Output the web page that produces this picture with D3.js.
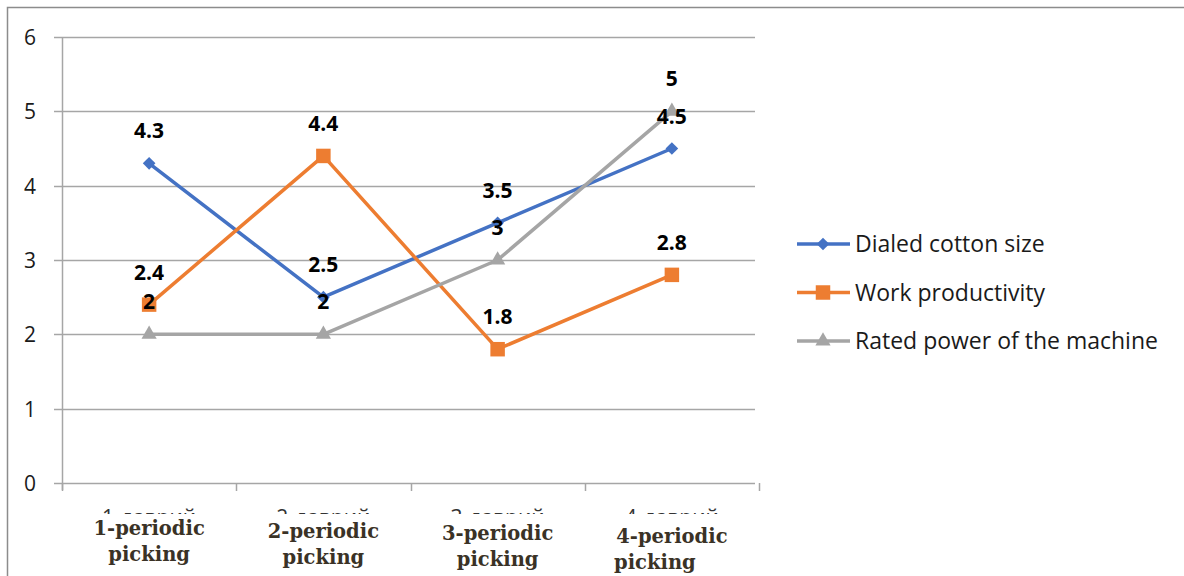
<!DOCTYPE html>
<html>
<head>
<meta charset="utf-8">
<script src="https://cdn.jsdelivr.net/npm/d3@7"></script>
<style>
body { margin: 0; background: #fff; }
svg { display: block; }
</style>
</head>
<body>
<svg id="chart" width="1184" height="576"></svg>
<script>
var categories = ["1", "2", "3", "4"];
var catLabels = [["1-periodic", "picking"], ["2-periodic", "picking"], ["3-periodic", "picking"], ["4-periodic", "picking"]];
var catLabelsUz = ["1-даврий", "2-даврий", "3-даврий", "4-даврий"];
var seriesNames = ["Dialed cotton size", "Work productivity", "Rated power of the machine"];
var cottonSize = [4.3, 2.5, 3.5, 4.5];
var productivity = [2.4, 4.4, 1.8, 2.8];
var ratedPower = [2, 2, 3, 5];
var yTicks = [0, 1, 2, 3, 4, 5, 6];

var colors = ["#4472C4", "#ED7D31", "#A5A5A5"];
var symbols = [d3.symbolSquare, d3.symbolSquare, d3.symbolTriangle];
var symSizes = [80, 210, 100];
var symRotate = [45, 0, 0];

var series = [cottonSize, productivity, ratedPower].map(function (vals, i) {
	return {name: seriesNames[i], values: vals, color: colors[i]};
});

var svg = d3.select("#chart");
var plotLeft = 62, plotRight = 759, plotTop = 37, plotBottom = 483;

var x = d3.scaleBand().domain(categories).range([plotLeft, plotRight]);
var y = d3.scaleLinear().domain([0, 6]).range([plotBottom, plotTop]);

function cx(i) { return x(categories[i]) + x.bandwidth() / 2; }

// chart border (only left and top visible)
svg.append("path")
	.attr("d", "M7.5,576 L7.5,7.5 L1184,7.5")
	.attr("fill", "none")
	.attr("stroke", "#8c8c8c")
	.attr("stroke-width", 1.5);

// gridlines
svg.append("g").selectAll("line")
	.data(yTicks)
	.enter().append("line")
	.attr("x1", 54).attr("x2", 755)
	.attr("y1", function (d) { return Math.round(y(d)) + 0.5; })
	.attr("y2", function (d) { return Math.round(y(d)) + 0.5; })
	.attr("stroke", "#a6a6a6")
	.attr("stroke-width", 1.5);

// y axis line
svg.append("line")
	.attr("x1", plotLeft + 0.5).attr("x2", plotLeft + 0.5)
	.attr("y1", plotTop).attr("y2", plotBottom + 7)
	.attr("stroke", "#a6a6a6")
	.attr("stroke-width", 1.5);

// x tick marks
svg.append("g").selectAll("line")
	.data(categories.concat(["end"]))
	.enter().append("line")
	.attr("x1", function (d, i) { return Math.round(plotLeft + i * x.bandwidth()) + 0.5; })
	.attr("x2", function (d, i) { return Math.round(plotLeft + i * x.bandwidth()) + 0.5; })
	.attr("y1", plotBottom).attr("y2", plotBottom + 8)
	.attr("stroke", "#a6a6a6")
	.attr("stroke-width", 1.5);

// y tick labels
svg.append("g").selectAll("text")
	.data(yTicks)
	.enter().append("text")
	.attr("x", 30)
	.attr("y", function (d) { return y(d) + 8; })
	.attr("text-anchor", "middle")
	.attr("font-family", "Open Sans, Liberation Sans, sans-serif")
	.attr("font-size", 21)
	.attr("fill", "#1a1a1a")
	.text(function (d) { return d; });

// original category labels, partly hidden under the pasted english ones
svg.append("g").selectAll("text")
	.data(catLabelsUz)
	.enter().append("text")
	.attr("x", function (d, i) { return cx(i); })
	.attr("y", 525)
	.attr("text-anchor", "middle")
	.attr("font-family", "Open Sans, Liberation Sans, sans-serif")
	.attr("font-size", 21)
	.attr("fill", "#333")
	.text(function (d) { return d; });

svg.append("rect")
	.attr("x", 60).attr("y", 514)
	.attr("width", 700).attr("height", 62)
	.attr("fill", "#fff");

var catG = svg.append("g").selectAll("text")
	.data(catLabels)
	.enter().append("text")
	.attr("text-anchor", "middle")
	.attr("font-family", "DejaVu Serif, Liberation Serif, serif")
	.attr("font-weight", "bold")
	.attr("font-size", 19.5)
	.attr("fill", "#3a3226")
	.attr("transform", function (d, i) {
		return "translate(" + cx(i) + "," + (535 + i * 2.7) + ")";
	});
catG.append("tspan").attr("x", 0).attr("dy", 0).text(function (d) { return d[0]; });
catG.append("tspan")
	.attr("x", function (d, i) { return i == 3 ? -17 : 0; })
	.attr("dy", 26)
	.text(function (d) { return d[1]; });

// lines
var line = d3.line()
	.x(function (d, i) { return cx(i); })
	.y(function (d) { return y(d); });

svg.append("g").selectAll("path")
	.data(series)
	.enter().append("path")
	.attr("d", function (d) { return line(d.values); })
	.attr("fill", "none")
	.attr("stroke", function (d) { return d.color; })
	.attr("stroke-width", 3.5)
	.attr("stroke-linejoin", "round");

// markers
series.forEach(function (s, si) {
	svg.append("g").selectAll("path")
		.data(s.values)
		.enter().append("path")
		.attr("d", d3.symbol().type(symbols[si]).size(symSizes[si]))
		.attr("transform", function (d, i) {
			return "translate(" + cx(i) + "," + y(d) + ") rotate(" + symRotate[si] + ")";
		})
		.attr("fill", s.color);
});

// data labels
series.forEach(function (s) {
	svg.append("g").selectAll("text")
		.data(s.values)
		.enter().append("text")
		.attr("x", function (d, i) { return cx(i); })
		.attr("y", function (d) { return y(d) - 25; })
		.attr("text-anchor", "middle")
		.attr("font-family", "Open Sans, Liberation Sans, sans-serif")
		.attr("font-weight", "bold")
		.attr("font-size", 21)
		.attr("fill", "#000")
		.text(function (d) { return d; });
});

// legend
var legend = svg.append("g").selectAll("g")
	.data(series)
	.enter().append("g")
	.attr("transform", function (d, i) { return "translate(797," + (244 + i * 48.5) + ")"; });

legend.append("line")
	.attr("x1", 0).attr("x2", 53)
	.attr("stroke", function (d) { return d.color; })
	.attr("stroke-width", 3.5);

legend.append("path")
	.attr("d", function (d, i) { return d3.symbol().type(symbols[i]).size(symSizes[i])(); })
	.attr("transform", function (d, i) { return "translate(26,0) rotate(" + symRotate[i] + ")"; })
	.attr("fill", function (d) { return d.color; });

legend.append("text")
	.attr("x", 58)
	.attr("y", 8)
	.attr("font-family", "Open Sans, Liberation Sans, sans-serif")
	.attr("font-size", 23)
	.attr("fill", "#1a1a1a")
	.text(function (d) { return d.name; });
</script>
</body>
</html>
